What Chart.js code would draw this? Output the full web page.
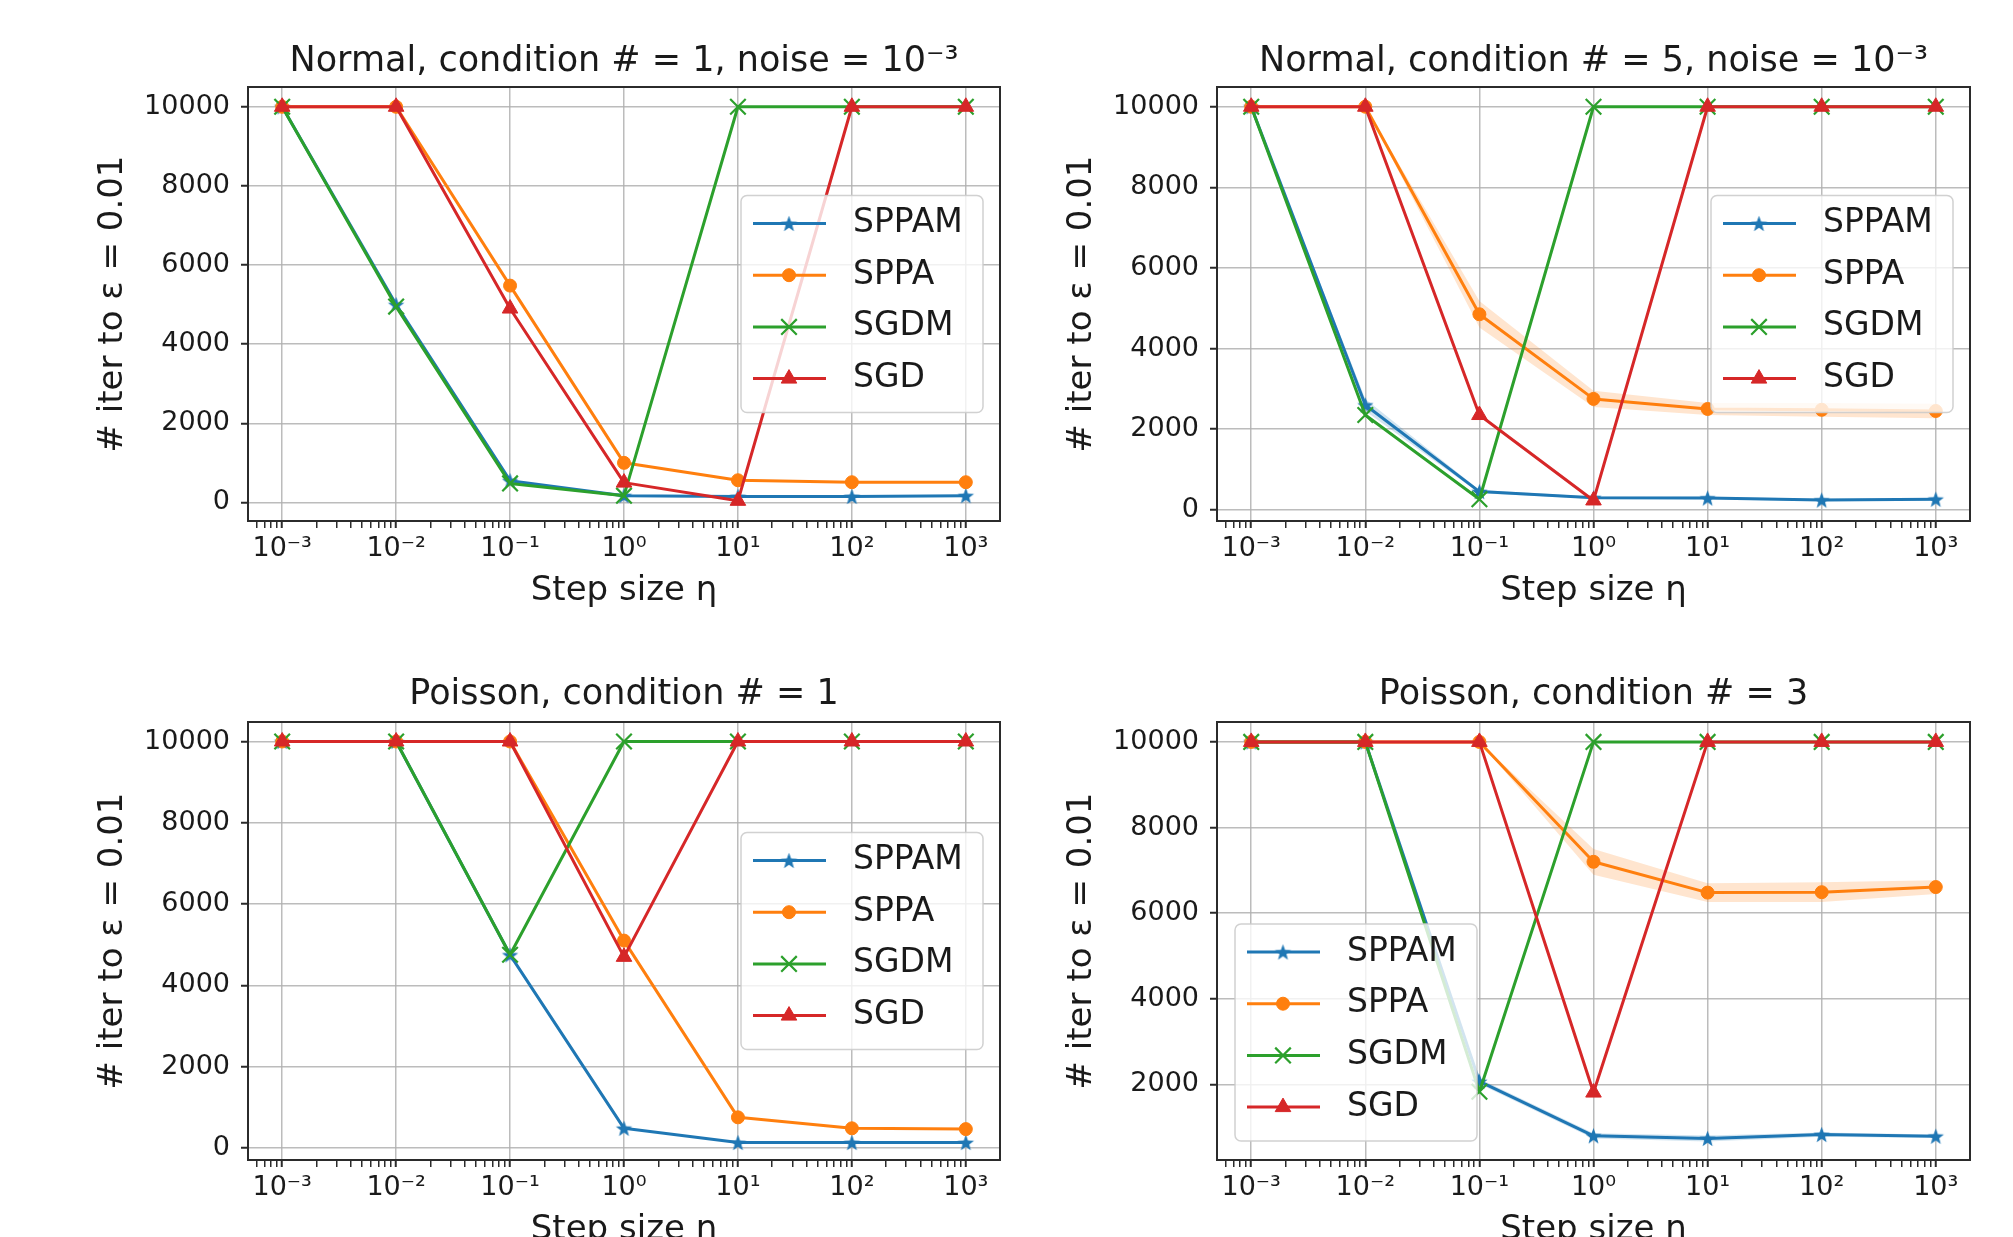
<!DOCTYPE html>
<html>
<head>
<meta charset="utf-8">
<script src="https://cdn.jsdelivr.net/npm/chart.js@4.4.1/dist/chart.umd.min.js"></script>
<style>
html,body{margin:0;padding:0;background:#fff;overflow:hidden;width:2013px;height:1237px}
canvas{position:absolute}
</style>
</head>
<body>
<canvas id="c1"></canvas>
<canvas id="c2"></canvas>
<canvas id="c3"></canvas>
<canvas id="c4"></canvas>
<script>
// x values and their tick labels
const stepSizes = [1e-3, 1e-2, 1e-1, 1, 10, 100, 1000];
const stepLabels = ['10⁻³', '10⁻²', '10⁻¹', '10⁰', '10¹', '10²', '10³'];
const iterTicks = [0, 2000, 4000, 6000, 8000, 10000];
const seriesNames = ['SPPAM', 'SPPA', 'SGDM', 'SGD'];

// Normal, condition # = 1
const n1Sppam = [10000, 5000, 550, 170, 150, 150, 170];
const n1Sppa  = [10000, 10000, 5480, 1000, 560, 510, 510];
const n1Sgdm  = [10000, 4950, 480, 170, 10000, 10000, 10000];
const n1Sgd   = [10000, 10000, 4900, 500, 40, 10000, 10000];

// Normal, condition # = 5
const n5Sppam = [10000, 2600, 450, 300, 290, 240, 260];
const n5Sppa  = [10000, 10000, 4850, 2750, 2500, 2480, 2450];
const n5Sgdm  = [10000, 2350, 260, 10000, 10000, 10000, 10000];
const n5Sgd   = [10000, 10000, 2350, 230, 10000, 10000, 10000];
const n5SppamSpread = [0, 150, 40, 30, 30, 30, 30];
const n5SppaSpread  = [0, 0, 330, 200, 150, 170, 180];

// Poisson, condition # = 1
const p1Sppam = [10000, 10000, 4750, 480, 130, 130, 130];
const p1Sppa  = [10000, 10000, 10000, 5100, 750, 480, 460];
const p1Sgdm  = [10000, 10000, 4750, 10000, 10000, 10000, 10000];
const p1Sgd   = [10000, 10000, 10000, 4700, 10000, 10000, 10000];

// Poisson, condition # = 3
const p3Sppam = [10000, 10000, 2070, 800, 740, 830, 790];
const p3Sppa  = [10000, 10000, 10000, 7200, 6480, 6490, 6610];
const p3Sgdm  = [10000, 10000, 1830, 10000, 10000, 10000, 10000];
const p3Sgd   = [10000, 10000, 10000, 1810, 10000, 10000, 10000];
const p3SppamSpread = [0, 0, 60, 60, 70, 50, 40];
const p3SppaSpread  = [0, 0, 0, 300, 220, 230, 160];

const FONT = "'DejaVu Sans', sans-serif";
const INK = '#1a1a1a';
const GRID = 'rgba(176,176,176,0.85)';
const X_MIN = Math.pow(10, -3.3), X_MAX = Math.pow(10, 3.3);

function starImage(color, size) {
  const c = document.createElement('canvas');
  c.width = c.height = size;
  const g = c.getContext('2d');
  const R = size / 2 - 1, r = R * 0.42, cx = size / 2, cy = size / 2 + 0.8;
  g.beginPath();
  for (let i = 0; i < 10; i++) {
    const a = -Math.PI / 2 + i * Math.PI / 5, rr = i % 2 ? r : R;
    g.lineTo(cx + rr * Math.cos(a), cy + rr * Math.sin(a));
  }
  g.closePath();
  g.fillStyle = color;
  g.fill();
  return c;
}

const styles = {
  SPPAM: {color: '#1f77b4', point: starImage('#1f77b4', 19), radius: 9, bw: 1},
  SPPA:  {color: '#ff7f0e', point: 'circle', radius: 6.5, bw: 1},
  SGDM:  {color: '#2ca02c', point: 'crossRot', radius: 11, bw: 2.2},
  SGD:   {color: '#d62728', point: 'triangle', radius: 9, bw: 1}
};

// minor + major tick positions for the log axis
const xTickValues = [];
for (let e = -4; e <= 3; e++) {
  for (let k = 1; k <= 9; k++) {
    const v = k * Math.pow(10, e);
    if (v > X_MIN && v < X_MAX) xTickValues.push(v);
  }
}
function decadeIndex(v) {
  const l = Math.log10(v), e = Math.round(l);
  return Math.abs(l - e) < 1e-6 ? e + 3 : -1;
}

function lineSet(name, values, order) {
  const s = styles[name];
  return {
    label: name,
    data: stepSizes.map((x, i) => ({x: x, y: values[i]})),
    borderColor: s.color, backgroundColor: s.color, borderWidth: 3,
    borderJoinStyle: 'round',
    pointStyle: s.point, pointRadius: s.radius, pointBorderWidth: s.bw,
    pointBackgroundColor: s.color, pointBorderColor: s.color,
    fill: false, order: order
  };
}
function bandSets(values, spread, color) {
  return [
    {data: stepSizes.map((x, i) => ({x: x, y: values[i] - spread[i]})), borderColor: 'transparent',
     borderWidth: 0, pointRadius: 0, fill: false, band: true, order: 10},
    {data: stepSizes.map((x, i) => ({x: x, y: values[i] + spread[i]})), borderColor: 'transparent',
     borderWidth: 0, pointRadius: 0, fill: '-1', backgroundColor: color, band: true, order: 10}
  ];
}

function drawMarker(ctx, ds, x, y) {
  const st = ds.pointStyle, r = ds.pointRadius;
  ctx.save();
  ctx.fillStyle = ds.pointBackgroundColor;
  ctx.strokeStyle = ds.pointBorderColor;
  ctx.lineWidth = ds.pointBorderWidth;
  ctx.beginPath();
  if (st instanceof HTMLCanvasElement) {
    ctx.drawImage(st, x - st.width / 2, y - st.height / 2);
  } else if (st === 'circle') {
    ctx.arc(x, y, r, 0, Math.PI * 2); ctx.fill(); ctx.stroke();
  } else if (st === 'triangle') {
    for (let k = 0; k < 3; k++) {
      const a = k * Math.PI * 2 / 3;
      ctx.lineTo(x + Math.sin(a) * r, y - Math.cos(a) * r);
    }
    ctx.closePath(); ctx.fill(); ctx.stroke();
  } else if (st === 'crossRot') {
    const d = r * Math.SQRT1_2;
    ctx.moveTo(x - d, y - d); ctx.lineTo(x + d, y + d);
    ctx.moveTo(x - d, y + d); ctx.lineTo(x + d, y - d);
    ctx.stroke();
  }
  ctx.restore();
}

// axes frame (all four spines) and the boxed legend
const boxLegend = {
  id: 'boxLegend',
  afterDatasetsDraw(chart) {
    const {ctx, chartArea: a} = chart;
    ctx.save();
    ctx.strokeStyle = '#2b2b2b';
    ctx.lineWidth = 2;
    ctx.strokeRect(a.left, a.top, a.right - a.left, a.bottom - a.top);
    ctx.restore();
  },
  afterDraw(chart, args, opts) {
    if (!opts || !opts.corner) return;
    const {ctx, chartArea: a} = chart;
    const w = 242, h = 217;
    let x0, y0;
    if (opts.corner === 'lowerleft') { x0 = a.left + 18; y0 = a.bottom - 19 - h; }
    else { x0 = a.right - 17 - w; y0 = (a.top + a.bottom) / 2 - h / 2; }
    ctx.save();
    ctx.beginPath();
    if (ctx.roundRect) ctx.roundRect(x0, y0, w, h, 6); else ctx.rect(x0, y0, w, h);
    ctx.fillStyle = 'rgba(255,255,255,0.8)';
    ctx.fill();
    ctx.strokeStyle = 'rgba(204,204,204,0.9)';
    ctx.lineWidth = 1.5;
    ctx.stroke();
    const rows = chart.data.datasets.filter(d => !d.band);
    rows.forEach((ds, i) => {
      const y = y0 + 28 + i * 51.7;
      ctx.beginPath();
      ctx.moveTo(x0 + 12, y); ctx.lineTo(x0 + 85, y);
      ctx.strokeStyle = ds.borderColor; ctx.lineWidth = ds.borderWidth;
      ctx.stroke();
      drawMarker(ctx, ds, x0 + 48, y);
      ctx.fillStyle = INK;
      ctx.font = '33px ' + FONT;
      ctx.textBaseline = 'middle';
      ctx.textAlign = 'left';
      ctx.fillText(ds.label, x0 + 112, y);
    });
    ctx.restore();
  }
};
Chart.register(boxLegend);

const panels = [
  {id: 'c1', left: 0, top: 0, width: 1006, height: 618,
   title: 'Normal, condition # = 1, noise = 10⁻³',
   series: [n1Sppam, n1Sppa, n1Sgdm, n1Sgd], bands: [],
   yMin: -470, yMax: 10500, yAxisW: 248, padR: 6, yTitlePad: 93,
   titlePad: {top: 41, bottom: 4}, xAxisH: 97, xTitlePad: 6, legend: 'right'},
  {id: 'c2', left: 1006, top: 0, width: 1007, height: 618,
   title: 'Normal, condition # = 5, noise = 10⁻³',
   series: [n5Sppam, n5Sppa, n5Sgdm, n5Sgd],
   bands: [[n5Sppam, n5SppamSpread, 'rgba(31,119,180,0.2)'], [n5Sppa, n5SppaSpread, 'rgba(255,127,14,0.2)']],
   yMin: -280, yMax: 10490, yAxisW: 211, padR: 43, yTitlePad: 56,
   titlePad: {top: 41, bottom: 4}, xAxisH: 97, xTitlePad: 6, legend: 'right'},
  {id: 'c3', left: 0, top: 618, width: 1006, height: 640,
   title: 'Poisson, condition # = 1',
   series: [p1Sppam, p1Sppa, p1Sgdm, p1Sgd], bands: [],
   yMin: -300, yMax: 10480, yAxisW: 248, padR: 6, yTitlePad: 93,
   titlePad: {top: 56, bottom: 6}, xAxisH: 98, xTitlePad: 7, legend: 'right'},
  {id: 'c4', left: 1006, top: 618, width: 1007, height: 640,
   title: 'Poisson, condition # = 3',
   series: [p3Sppam, p3Sppa, p3Sgdm, p3Sgd],
   bands: [[p3Sppam, p3SppamSpread, 'rgba(31,119,180,0.2)'], [p3Sppa, p3SppaSpread, 'rgba(255,127,14,0.2)']],
   yMin: 235, yMax: 10465, yAxisW: 211, padR: 43, yTitlePad: 56,
   titlePad: {top: 56, bottom: 6}, xAxisH: 98, xTitlePad: 7, legend: 'lowerleft'}
];

panels.forEach(p => {
  const cv = document.getElementById(p.id);
  cv.width = p.width; cv.height = p.height;
  cv.style.left = p.left + 'px'; cv.style.top = p.top + 'px';
  const datasets = [];
  p.bands.forEach(b => bandSets(b[0], b[1], b[2]).forEach(d => datasets.push(d)));
  seriesNames.forEach((name, i) => datasets.push(lineSet(name, p.series[i], 4 - i)));
  const tickFont = {family: FONT, size: 27};
  new Chart(cv, {
    type: 'line',
    data: {datasets: datasets},
    options: {
      responsive: false, animation: false, events: [],
      layout: {autoPadding: false, padding: {left: 0, right: p.padR, top: 0, bottom: 0}},
      plugins: {
        legend: {display: false},
        tooltip: {enabled: false},
        title: {display: true, text: p.title, fullSize: false, color: INK,
                font: {family: FONT, size: 35, weight: 'normal', lineHeight: 1.2},
                padding: p.titlePad},
        boxLegend: {corner: p.legend}
      },
      scales: {
        x: {
          type: 'logarithmic', min: X_MIN, max: X_MAX,
          afterBuildTicks: s => { s.ticks = xTickValues.map(v => ({value: v})); },
          afterFit: s => { s.height = p.xAxisH; },
          border: {display: false},
          grid: {
            color: c => (c.tick && decadeIndex(c.tick.value) >= 0) ? GRID : 'transparent',
            lineWidth: 1.5, tickColor: '#2b2b2b', tickLength: 7,
            tickWidth: c => (c.tick && decadeIndex(c.tick.value) >= 0) ? 2 : 1.5
          },
          ticks: {
            autoSkip: false, maxRotation: 0, minRotation: 0, padding: 5,
            color: INK, font: tickFont,
            callback: v => { const i = decadeIndex(v); return i >= 0 ? stepLabels[i] : ''; }
          },
          title: {display: true, text: 'Step size η', color: INK,
                  font: {family: FONT, size: 34, lineHeight: 1.2}, padding: {top: 0, bottom: p.xTitlePad}}
        },
        y: {
          type: 'linear', min: p.yMin, max: p.yMax,
          afterBuildTicks: s => {
            s.ticks = iterTicks.filter(v => v >= p.yMin && v <= p.yMax).map(v => ({value: v}));
          },
          afterFit: s => { s.width = p.yAxisW; },
          border: {display: false},
          grid: {color: GRID, lineWidth: 1.5, tickColor: '#2b2b2b', tickLength: 7, tickWidth: 2},
          ticks: {autoSkip: false, padding: 11, color: INK, font: tickFont,
                  callback: v => String(v)},
          title: {display: true, text: '# iter to ε = 0.01', color: INK,
                  font: {family: FONT, size: 34, lineHeight: 1.2}, padding: {top: p.yTitlePad, bottom: 0}}
        }
      }
    }
  });
});
</script>
</body>
</html>
